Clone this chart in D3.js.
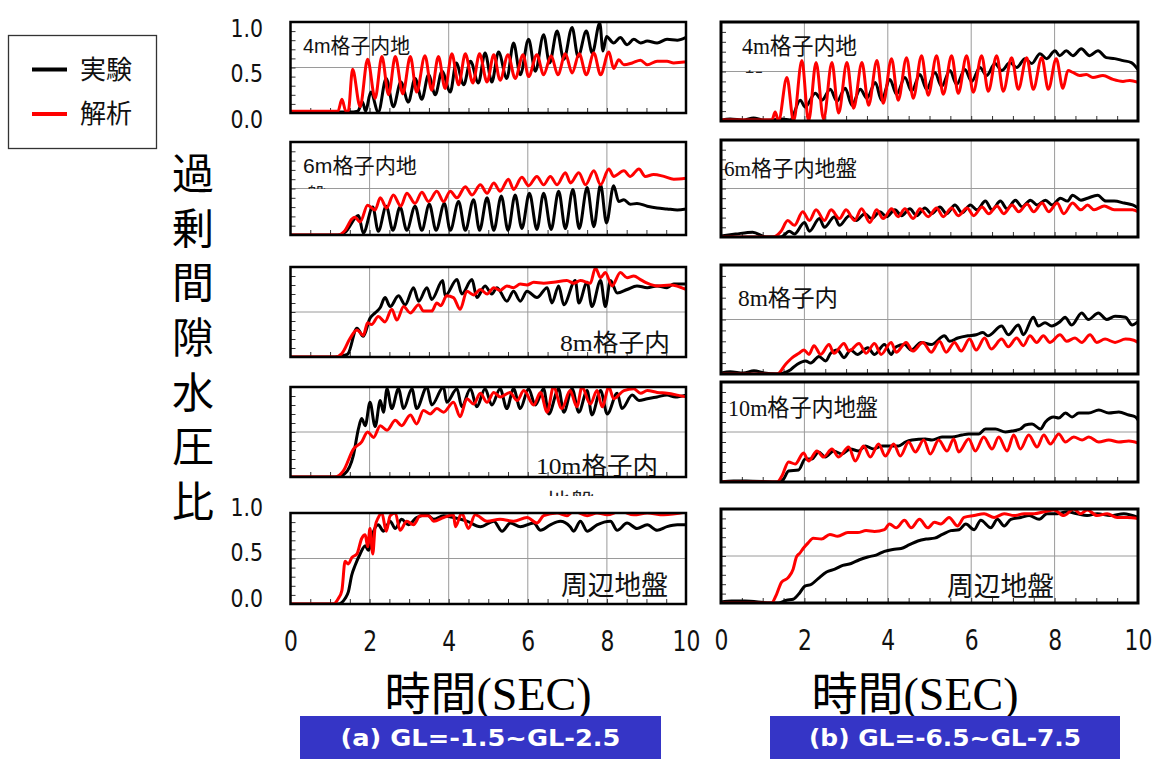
<!DOCTYPE html>
<html>
<head>
<meta charset="utf-8">
<script src="https://cdn.jsdelivr.net/npm/d3@7"></script>
<style>
  body { margin: 0; background: #fff; }
  svg { display: block; }
</style>
</head>
<body>
<svg id="chart" width="1157" height="759"></svg>
<script>
// ---------------- data ----------------
const timeTicks = [0, 2, 4, 6, 8, 10];
const ratioTicks = [0, 0.5, 1];
const yTitle = "過剰間隙水圧比";
const seriesNames = ["実験", "解析"];
const seriesColors = ["#000000", "#ff0000"];
const xTitleMain = "時間";
const xTitleUnit = "(SEC)";
const caseTitles = ["(a)  GL=-1.5~GL-2.5", "(b)  GL=-6.5~GL-7.5"];
const panelNames = ["4m格子内地", "6m格子内地", "8m格子内", "10m格子内", "周辺地盤",
                    "4m格子内地", "6m格子内地盤", "8m格子内", "10m格子内地盤", "周辺地盤"];

// (a) GL-1.5 ~ GL-2.5 : [time s, ratio]
const expA4 = [[0,0.01],[0.5,0.01],[1.0,0.01],[1.5,0.01],[1.70,0.02],[1.82,0.12],[1.90,0.02],[2.03,0.23],[2.22,0.01],[2.42,0.38],[2.60,0.07],[2.79,0.34],[2.98,0.12],[3.15,0.38],[3.32,0.15],[3.49,0.42],[3.66,0.20],[3.83,0.46],[4.04,0.23],[4.19,0.55],[4.38,0.31],[4.55,0.57],[4.75,0.33],[4.92,0.66],[5.09,0.34],[5.26,0.67],[5.47,0.38],[5.64,0.77],[5.81,0.42],[6.02,0.81],[6.19,0.46],[6.40,0.86],[6.55,0.55],[6.74,0.90],[6.91,0.59],[7.12,0.94],[7.27,0.62],[7.48,0.90],[7.63,0.66],[7.82,0.99],[7.90,0.68],[7.99,0.84],[8.17,0.77],[8.34,0.83],[8.51,0.75],[8.68,0.81],[8.85,0.77],[9.02,0.79],[9.27,0.77],[9.52,0.81],[9.78,0.80],[10,0.83]];
const anaA4 = [[0,0.02],[1.2,0.02],[1.30,0.15],[1.40,0.02],[1.46,0.02],[1.57,0.48],[1.76,0.07],[1.95,0.59],[2.14,0.16],[2.31,0.62],[2.48,0.20],[2.65,0.62],[2.84,0.21],[3.03,0.62],[3.19,0.23],[3.40,0.63],[3.57,0.25],[3.74,0.62],[3.91,0.27],[4.08,0.65],[4.25,0.31],[4.42,0.65],[4.61,0.33],[4.78,0.65],[4.97,0.34],[5.14,0.64],[5.30,0.36],[5.50,0.64],[5.68,0.38],[5.88,0.64],[6.02,0.40],[6.23,0.64],[6.40,0.42],[6.59,0.63],[6.76,0.42],[6.95,0.65],[7.12,0.44],[7.30,0.65],[7.48,0.42],[7.67,0.66],[7.84,0.42],[8.05,0.67],[8.17,0.49],[8.30,0.585],[8.43,0.53],[8.64,0.55],[8.85,0.58],[9.02,0.53],[9.27,0.57],[9.52,0.57],[9.69,0.55],[9.95,0.56],[10,0.56]];

const expA6 = [[0,0],[1.2,0],[1.38,0.03],[1.72,0.21],[1.84,0.02],[2.08,0.30],[2.22,0.04],[2.42,0.31],[2.59,0.05],[2.77,0.30],[2.94,0.05],[3.15,0.31],[3.32,0.05],[3.51,0.33],[3.68,0.05],[3.89,0.34],[4.04,0.05],[4.25,0.36],[4.42,0.05],[4.63,0.38],[4.78,0.05],[4.97,0.40],[5.14,0.05],[5.33,0.42],[5.50,0.05],[5.68,0.43],[5.85,0.07],[6.04,0.45],[6.23,0.06],[6.40,0.45],[6.59,0.06],[6.78,0.47],[6.95,0.07],[7.14,0.49],[7.30,0.07],[7.50,0.51],[7.67,0.09],[7.84,0.54],[7.99,0.13],[8.17,0.53],[8.30,0.36],[8.43,0.38],[8.59,0.33],[8.76,0.34],[9.02,0.31],[9.27,0.29],[9.52,0.28],[9.78,0.27],[10,0.28]];
const anaA6 = [[0,0],[1.21,0],[1.38,0.05],[1.55,0.17],[1.63,0.19],[1.76,0.14],[1.95,0.32],[2.14,0.27],[2.27,0.40],[2.43,0.29],[2.60,0.43],[2.79,0.31],[2.94,0.45],[3.15,0.34],[3.32,0.46],[3.49,0.36],[3.70,0.47],[3.87,0.36],[4.04,0.47],[4.21,0.40],[4.42,0.52],[4.59,0.43],[4.80,0.54],[4.97,0.45],[5.14,0.56],[5.30,0.47],[5.51,0.60],[5.64,0.49],[5.85,0.62],[6.02,0.53],[6.23,0.63],[6.40,0.54],[6.57,0.63],[6.74,0.54],[6.95,0.67],[7.08,0.56],[7.29,0.67],[7.46,0.54],[7.67,0.69],[7.84,0.54],[8.05,0.71],[8.17,0.63],[8.43,0.69],[8.59,0.63],[8.81,0.71],[8.97,0.63],[9.18,0.65],[9.44,0.63],[9.69,0.60],[10,0.61]];

const expA8 = [[0,0],[1.13,0],[1.38,0.02],[1.46,0.04],[1.68,0.32],[1.84,0.23],[2.01,0.43],[2.14,0.49],[2.27,0.55],[2.39,0.66],[2.52,0.56],[2.73,0.68],[2.90,0.58],[3.11,0.77],[3.24,0.62],[3.45,0.77],[3.57,0.64],[3.85,0.85],[3.91,0.68],[4.21,0.86],[4.33,0.70],[4.59,0.86],[4.71,0.66],[4.92,0.79],[5.09,0.70],[5.22,0.77],[5.47,0.62],[5.64,0.73],[5.81,0.62],[5.98,0.73],[6.23,0.66],[6.49,0.77],[6.61,0.60],[6.78,0.79],[6.91,0.58],[7.20,0.85],[7.29,0.60],[7.50,0.83],[7.62,0.56],[7.84,0.85],[7.96,0.56],[8.09,0.85],[8.26,0.71],[8.51,0.75],[8.76,0.79],[9.02,0.77],[9.27,0.79],[9.52,0.77],[9.69,0.81],[10,0.81]];
const anaA8 = [[0,0],[1.13,0],[1.30,0.04],[1.51,0.21],[1.68,0.30],[1.84,0.24],[1.95,0.38],[2.05,0.36],[2.22,0.45],[2.39,0.39],[2.56,0.53],[2.69,0.41],[2.86,0.56],[3.03,0.49],[3.24,0.58],[3.36,0.51],[3.57,0.51],[3.70,0.60],[3.80,0.57],[3.95,0.68],[4.12,0.66],[4.29,0.53],[4.46,0.73],[4.63,0.69],[4.80,0.75],[4.97,0.70],[5.14,0.77],[5.30,0.74],[5.47,0.79],[5.64,0.77],[5.81,0.81],[5.98,0.80],[6.15,0.83],[6.40,0.82],[6.65,0.83],[6.99,0.85],[7.16,0.82],[7.33,0.85],[7.58,0.82],[7.71,0.99],[7.84,0.88],[7.96,0.94],[8.13,0.79],[8.34,0.94],[8.51,0.88],[8.68,0.90],[8.85,0.86],[9.02,0.82],[9.27,0.79],[9.61,0.80],[10,0.75]];

const expA10 = [[0,0],[1.17,0],[1.38,0.04],[1.59,0.24],[1.72,0.54],[1.80,0.65],[1.89,0.57],[2.01,0.83],[2.14,0.56],[2.27,0.85],[2.35,0.72],[2.44,0.98],[2.56,0.76],[2.73,0.98],[2.86,0.76],[3.07,0.98],[3.19,0.76],[3.45,1.0],[3.57,0.80],[3.87,1.0],[3.95,0.83],[4.21,0.98],[4.33,0.78],[4.55,0.98],[4.71,0.78],[4.92,0.98],[5.09,0.80],[5.30,0.98],[5.47,0.76],[5.64,0.98],[5.81,0.76],[6.02,0.98],[6.19,0.80],[6.40,0.98],[6.53,0.70],[6.78,0.98],[6.91,0.72],[7.12,0.98],[7.29,0.72],[7.50,0.96],[7.62,0.69],[7.84,0.96],[8.01,0.70],[8.26,0.93],[8.38,0.76],[8.64,0.91],[8.81,0.85],[9.02,0.87],[9.27,0.89],[9.52,0.91],[9.73,0.89],[10,0.91]];
const anaA10 = [[0,0],[1.13,0],[1.34,0.07],[1.59,0.31],[1.80,0.39],[1.95,0.50],[2.10,0.44],[2.27,0.57],[2.44,0.52],[2.65,0.63],[2.81,0.57],[3.03,0.69],[3.19,0.59],[3.36,0.74],[3.53,0.70],[3.70,0.76],[3.87,0.72],[4.12,0.83],[4.29,0.67],[4.46,0.87],[4.63,0.81],[4.80,0.93],[4.97,0.83],[5.14,0.94],[5.30,0.89],[5.55,0.94],[5.73,0.85],[5.90,0.96],[6.15,0.80],[6.32,0.94],[6.49,0.72],[6.65,1.0],[6.86,0.76],[7.07,0.96],[7.24,0.78],[7.37,1.0],[7.58,0.81],[7.75,0.96],[7.88,0.78],[8.05,1.0],[8.17,0.87],[8.43,0.96],[8.68,0.98],[8.85,0.93],[9.02,0.96],[9.27,0.94],[9.52,0.93],[9.78,0.91],[10,0.89]];

const expA0 = [[0,0],[1.21,0],[1.38,0.06],[1.46,0.13],[1.55,0.32],[1.63,0.42],[1.76,0.55],[1.89,0.64],[1.97,0.59],[2.10,0.80],[2.22,0.87],[2.35,0.80],[2.52,0.91],[2.65,0.83],[2.81,0.93],[2.98,0.87],[3.19,0.95],[3.45,0.98],[3.62,0.93],[3.87,0.97],[4.12,0.95],[4.46,0.91],[4.80,0.85],[5.14,0.91],[5.35,0.80],[5.56,0.89],[5.81,0.85],[6.15,0.89],[6.32,0.81],[6.57,0.87],[6.82,0.91],[7.07,0.85],[7.16,0.80],[7.33,0.91],[7.50,0.80],[7.75,0.87],[8.09,0.91],[8.26,0.81],[8.51,0.89],[8.76,0.83],[9.02,0.87],[9.27,0.81],[9.52,0.85],[9.78,0.87],[10,0.87]];
const anaA0 = [[0,0],[1.08,0],[1.21,0.06],[1.30,0.15],[1.38,0.47],[1.46,0.44],[1.55,0.51],[1.68,0.55],[1.80,0.72],[1.89,0.76],[1.95,0.63],[2.01,0.83],[2.08,0.55],[2.14,0.85],[2.22,0.95],[2.31,1.0],[2.42,0.80],[2.52,0.97],[2.65,1.0],[2.77,0.81],[2.94,0.91],[3.11,0.87],[3.28,0.97],[3.49,0.97],[3.62,0.91],[3.87,0.95],[4.12,0.98],[4.17,0.85],[4.33,1.0],[4.50,0.83],[4.67,0.98],[4.97,0.91],[5.30,0.93],[5.64,0.91],[5.98,0.95],[6.23,0.89],[6.40,0.97],[6.74,1.0],[6.99,0.97],[7.16,1.02],[7.50,0.97],[7.75,1.0],[8.01,0.98],[8.34,1.02],[8.68,0.98],[9.02,1.0],[9.44,0.98],[10,1.01]];

// (b) GL-6.5 ~ GL-7.5 : [time s, ratio]
const expB4 = [[0,0.01],[0.22,0.02],[0.54,0.01],[0.78,0.03],[1.02,0.01],[1.22,0.01],[1.46,0.02],[1.66,0.01],[1.90,0.21],[2.02,0.14],[2.26,0.28],[2.42,0.21],[2.62,0.32],[2.78,0.20],[2.98,0.33],[3.14,0.16],[3.34,0.32],[3.50,0.23],[3.70,0.39],[3.85,0.21],[4.05,0.42],[4.21,0.27],[4.41,0.44],[4.57,0.30],[4.77,0.47],[4.93,0.32],[5.13,0.49],[5.29,0.35],[5.49,0.51],[5.65,0.37],[5.85,0.52],[6.01,0.40],[6.21,0.54],[6.37,0.46],[6.57,0.58],[6.73,0.51],[6.93,0.59],[7.09,0.54],[7.29,0.63],[7.45,0.58],[7.65,0.68],[7.81,0.63],[8.01,0.71],[8.12,0.66],[8.28,0.71],[8.44,0.66],[8.64,0.73],[8.84,0.66],[9.04,0.71],[9.24,0.64],[9.44,0.63],[9.64,0.61],[9.84,0.59],[10,0.52]];
const anaB4 = [[0,0.01],[1.22,0.01],[1.30,0.09],[1.38,0.0],[1.58,0.44],[1.74,0.0],[1.94,0.61],[2.10,0.0],[2.28,0.59],[2.46,0.02],[2.66,0.59],[2.82,0.08],[3.02,0.59],[3.18,0.13],[3.38,0.59],[3.54,0.16],[3.74,0.61],[3.89,0.18],[4.09,0.63],[4.25,0.21],[4.45,0.64],[4.61,0.23],[4.81,0.66],[4.97,0.26],[5.17,0.66],[5.33,0.27],[5.53,0.66],[5.69,0.28],[5.89,0.66],[6.05,0.29],[6.25,0.66],[6.41,0.30],[6.61,0.66],[6.77,0.30],[6.97,0.64],[7.13,0.32],[7.33,0.64],[7.49,0.32],[7.69,0.64],[7.85,0.32],[8.04,0.63],[8.20,0.33],[8.32,0.51],[8.44,0.49],[8.60,0.46],[8.76,0.47],[8.92,0.44],[9.16,0.46],[9.40,0.42],[9.64,0.40],[9.80,0.41],[10,0.39]];

const expB6 = [[0,0.01],[0.35,0.03],[0.76,0.05],[1.08,0.0],[1.44,0.0],[1.64,0.06],[1.76,0.03],[2.00,0.15],[2.12,0.06],[2.36,0.19],[2.48,0.10],[2.72,0.21],[2.84,0.12],[3.08,0.22],[3.24,0.17],[3.45,0.24],[3.61,0.19],[3.81,0.26],[3.97,0.21],[4.17,0.28],[4.33,0.22],[4.53,0.29],[4.69,0.22],[4.89,0.30],[5.05,0.24],[5.25,0.31],[5.41,0.24],[5.61,0.33],[5.78,0.25],[5.98,0.33],[6.14,0.28],[6.34,0.37],[6.50,0.28],[6.70,0.37],[6.86,0.29],[7.06,0.38],[7.22,0.31],[7.42,0.38],[7.58,0.33],[7.78,0.38],[7.94,0.33],[8.14,0.40],[8.31,0.37],[8.43,0.43],[8.63,0.38],[8.79,0.40],[9.03,0.43],[9.23,0.37],[9.43,0.37],[9.67,0.35],[9.87,0.33],[10,0.30]];
const anaB6 = [[0,0],[1.24,0],[1.44,0.06],[1.60,0.17],[1.76,0.12],[1.96,0.26],[2.12,0.17],[2.28,0.28],[2.48,0.17],[2.64,0.28],[2.84,0.19],[3.00,0.28],[3.20,0.17],[3.37,0.29],[3.57,0.15],[3.73,0.28],[3.89,0.19],[4.09,0.29],[4.25,0.21],[4.41,0.29],[4.61,0.19],[4.77,0.29],[4.97,0.21],[5.17,0.30],[5.33,0.21],[5.53,0.30],[5.69,0.22],[5.90,0.30],[6.06,0.22],[6.26,0.31],[6.42,0.24],[6.62,0.32],[6.78,0.24],[6.98,0.33],[7.14,0.26],[7.34,0.34],[7.50,0.26],[7.70,0.35],[7.86,0.26],[8.06,0.35],[8.22,0.24],[8.43,0.35],[8.63,0.28],[8.79,0.33],[8.95,0.28],[9.19,0.32],[9.43,0.28],[9.67,0.28],[9.87,0.28],[10,0.26]];

const expB8 = [[0,0.01],[0.22,0.02],[0.54,0.01],[0.79,0.03],[1.03,0.01],[1.35,0.0],[1.67,0.04],[1.83,0.09],[2.03,0.12],[2.15,0.10],[2.35,0.16],[2.51,0.12],[2.63,0.19],[2.79,0.22],[2.95,0.15],[3.11,0.22],[3.27,0.18],[3.52,0.24],[3.68,0.18],[3.92,0.27],[4.08,0.18],[4.20,0.25],[4.40,0.27],[4.56,0.22],[4.80,0.29],[5.04,0.27],[5.36,0.35],[5.48,0.30],[5.68,0.33],[5.92,0.35],[6.12,0.36],[6.28,0.38],[6.40,0.35],[6.73,0.44],[6.89,0.36],[7.13,0.45],[7.25,0.36],[7.49,0.52],[7.61,0.44],[7.77,0.47],[7.93,0.44],[8.13,0.48],[8.25,0.52],[8.41,0.45],[8.65,0.56],[8.81,0.50],[9.05,0.56],[9.25,0.50],[9.45,0.53],[9.70,0.52],[9.86,0.45],[10,0.48]];
const anaB8 = [[0,0],[1.35,0],[1.55,0.09],[1.71,0.15],[1.87,0.19],[1.99,0.22],[2.11,0.18],[2.23,0.26],[2.39,0.18],[2.59,0.27],[2.71,0.19],[2.95,0.28],[3.07,0.21],[3.31,0.28],[3.48,0.19],[3.68,0.28],[3.84,0.18],[4.08,0.29],[4.20,0.20],[4.44,0.29],[4.60,0.21],[4.84,0.29],[5.04,0.20],[5.24,0.30],[5.40,0.20],[5.60,0.29],[5.76,0.21],[5.96,0.32],[6.12,0.22],[6.32,0.33],[6.48,0.23],[6.73,0.32],[6.89,0.25],[7.09,0.33],[7.25,0.26],[7.41,0.35],[7.57,0.29],[7.73,0.35],[7.89,0.29],[8.13,0.36],[8.29,0.30],[8.49,0.33],[8.65,0.29],[8.85,0.36],[9.01,0.29],[9.21,0.32],[9.45,0.29],[9.70,0.32],[9.90,0.31],[10,0.29]];

const expB10 = [[0,0],[0.3,0.01],[0.6,0.01],[1.40,0],[1.50,0.03],[1.62,0.11],[1.86,0.12],[2.02,0.23],[2.18,0.23],[2.34,0.30],[2.50,0.25],[2.70,0.31],[2.90,0.28],[3.10,0.33],[3.30,0.31],[3.46,0.36],[3.66,0.33],[3.86,0.36],[4.02,0.36],[4.26,0.36],[4.42,0.40],[4.58,0.42],[4.90,0.43],[5.06,0.42],[5.30,0.45],[5.54,0.45],[5.78,0.47],[5.94,0.48],[6.18,0.48],[6.34,0.53],[6.58,0.53],[6.82,0.50],[6.98,0.51],[7.18,0.53],[7.30,0.57],[7.46,0.58],[7.66,0.53],[7.78,0.60],[7.98,0.65],[8.10,0.64],[8.26,0.69],[8.42,0.65],[8.58,0.69],[8.82,0.69],[9.06,0.72],[9.30,0.69],[9.54,0.70],[9.78,0.67],[9.94,0.65],[10,0.62]];
const anaB10 = [[0,0],[1.34,0],[1.46,0.06],[1.62,0.20],[1.78,0.18],[1.98,0.29],[2.10,0.21],[2.30,0.31],[2.46,0.25],[2.66,0.33],[2.82,0.25],[3.06,0.35],[3.22,0.21],[3.42,0.36],[3.58,0.25],[3.78,0.38],[3.94,0.26],[4.14,0.38],[4.30,0.26],[4.50,0.40],[4.66,0.30],[4.86,0.42],[5.02,0.28],[5.22,0.42],[5.42,0.31],[5.58,0.43],[5.70,0.30],[5.94,0.43],[6.10,0.31],[6.30,0.45],[6.50,0.33],[6.66,0.45],[6.86,0.31],[7.02,0.47],[7.18,0.33],[7.38,0.47],[7.58,0.35],[7.74,0.47],[7.90,0.38],[8.10,0.48],[8.26,0.40],[8.46,0.45],[8.66,0.42],[8.82,0.45],[9.06,0.40],[9.30,0.42],[9.54,0.40],[9.78,0.41],[10,0.39]];

const expB0 = [[0,0.01],[0.25,0.02],[0.57,0.02],[1.21,0],[1.37,0],[1.57,0.03],[1.73,0.04],[1.89,0.11],[2.01,0.18],[2.17,0.20],[2.33,0.26],[2.53,0.33],[2.73,0.36],[2.92,0.40],[3.12,0.42],[3.32,0.46],[3.52,0.49],[3.72,0.51],[3.92,0.55],[4.12,0.57],[4.32,0.58],[4.52,0.62],[4.72,0.66],[4.92,0.68],[5.12,0.69],[5.31,0.73],[5.51,0.77],[5.71,0.78],[5.87,0.84],[6.07,0.78],[6.23,0.88],[6.47,0.80],[6.63,0.89],[6.79,0.82],[6.95,0.89],[7.19,0.91],[7.39,0.93],[7.63,0.89],[7.82,0.95],[8.06,0.95],[8.30,0.97],[8.54,0.95],[8.78,0.93],[9.02,0.95],[9.34,0.93],[9.66,0.95],[10,0.91]];
const anaB0 = [[0,0],[1.21,0],[1.33,0.09],[1.45,0.22],[1.61,0.27],[1.73,0.36],[1.81,0.49],[1.89,0.53],[1.97,0.58],[2.09,0.64],[2.21,0.69],[2.41,0.68],[2.61,0.73],[2.80,0.71],[3.04,0.75],[3.28,0.75],[3.48,0.77],[3.68,0.76],[3.92,0.78],[4.04,0.84],[4.20,0.80],[4.40,0.88],[4.56,0.80],[4.76,0.89],[4.96,0.80],[5.12,0.86],[5.27,0.84],[5.47,0.91],[5.67,0.82],[5.83,0.91],[6.07,0.93],[6.31,0.95],[6.55,0.91],[6.79,0.95],[7.03,0.93],[7.27,0.95],[7.51,0.95],[7.75,0.97],[7.98,0.99],[8.22,0.93],[8.46,1.0],[8.62,0.95],[8.78,0.99],[9.02,0.93],[9.26,0.95],[9.50,0.91],[9.74,0.91],[10,0.90]];

const expSeries = [expA4, expA6, expA8, expA10, expA0, expB4, expB6, expB8, expB10, expB0];
const anaSeries = [anaA4, anaA6, anaA8, anaA10, anaA0, anaB4, anaB6, anaB8, anaB10, anaB0];

// ---------------- layout ----------------
const cols = [{ x0: 290.5, x1: 686, titleX: 488 }, { x0: 721, x1: 1138, titleX: 915 }];
const rows = [
  [[22, 113], [142, 235], [267, 357], [387, 477], [513, 604]],
  [[22, 121], [140, 237], [265, 374], [382, 482], [509, 603]]
];
// panel name placement: x, baseline, font size, width, Latin font
const nameLayout = [
  [303, 53, 21, 107, "sans"], [303, 173, 21, 114, "sans"], [560, 351, 24, 110, "serif"],
  [536, 474, 24, 122, "serif"], [561, 595, 27, 107, "sans"],
  [742, 54, 23, 115, "serif"], [724, 176, 22, 133, "serif"], [738, 306, 23, 100, "serif"],
  [728, 416, 24, 150, "serif"], [947, 596, 27, 107, "sans"]
];
const FONT_SANS = "'Liberation Sans', 'Noto Sans CJK JP', sans-serif";
const FONT_SERIF = "'Liberation Serif', 'Noto Sans CJK JP', serif";
const FONT_CJK = "'Noto Sans CJK JP', sans-serif";

const svg = d3.select("#chart");
const defs = svg.append("defs");

const line = d3.line().x(d => d[0]).y(d => d[1]).curve(d3.curveMonotoneX);

let idx = 0;
cols.forEach((col, ci) => {
  rows[ci].forEach((r, ri) => {
    const k = idx++;
    const [top, bottom] = r;
    const x = d3.scaleLinear().domain([0, 10]).range([col.x0, col.x1]);
    const y = d3.scaleLinear().domain([0, 1]).range([bottom, top]);
    const g = svg.append("g");

    const clipId = "clip" + k;
    defs.append("clipPath").attr("id", clipId)
      .append("rect").attr("x", col.x0).attr("y", top)
      .attr("width", col.x1 - col.x0).attr("height", bottom - top);

    // grid
    g.append("g").selectAll("line").data(timeTicks.filter(t => t > 0 && t < 10)).join("line")
      .attr("x1", d => x(d)).attr("x2", d => x(d)).attr("y1", top).attr("y2", bottom)
      .attr("stroke", "#9a9a9a").attr("stroke-width", 1);
    g.append("line").attr("x1", col.x0).attr("x2", col.x1)
      .attr("y1", y(0.5)).attr("y2", y(0.5))
      .attr("stroke", "#9a9a9a").attr("stroke-width", 1);

    // minor ticks
    const bx = g.append("g").attr("transform", `translate(0,${bottom})`)
      .call(d3.axisBottom(x).tickValues(d3.range(0.5, 10, 0.5)).tickSize(-5).tickFormat(""));
    bx.select(".domain").remove();
    bx.selectAll("line").attr("stroke", "#333").attr("stroke-width", 1);
    const ly = g.append("g").attr("transform", `translate(${col.x0},0)`)
      .call(d3.axisLeft(y).tickValues(d3.range(0.1, 1, 0.1)).tickSize(-5).tickFormat(""));
    ly.select(".domain").remove();
    ly.selectAll("line").attr("stroke", "#333").attr("stroke-width", 1);

    // panel name
    const nl = nameLayout[k];
    g.append("text").attr("x", nl[0]).attr("y", nl[1])
      .attr("font-size", nl[2]).attr("font-family", nl[4] === "serif" ? FONT_SERIF : FONT_SANS)
      .attr("textLength", nl[3]).attr("lengthAdjust", "spacingAndGlyphs")
      .attr("fill", "#111").text(panelNames[k]);

    // series
    const lines = g.append("g").attr("clip-path", `url(#${clipId})`);
    [expSeries[k], anaSeries[k]].forEach((s, si) => {
      lines.append("path")
        .attr("d", line(s.map(p => [x(p[0]), y(p[1])])))
        .attr("fill", "none").attr("stroke", seriesColors[si])
        .attr("stroke-width", 3).attr("stroke-linejoin", "round");
    });

    // frame
    g.append("rect").attr("x", col.x0).attr("y", top)
      .attr("width", col.x1 - col.x0).attr("height", bottom - top)
      .attr("fill", "none").attr("stroke", "#000").attr("stroke-width", ci === 0 ? 2.5 : 3);

    // y tick labels on the left column, first and last panel
    if (ci === 0 && (ri === 0 || ri === 4)) {
      const shift = ri === 0 ? 6 : -6;
      const ay = g.append("g").attr("transform", `translate(${col.x0 - 25},${shift})`)
        .call(d3.axisLeft(y).tickValues(ratioTicks).tickSize(0).tickFormat(d3.format(".1f")));
      ay.select(".domain").remove();
      ay.selectAll("text").attr("font-size", 25).attr("font-family", "'DejaVu Sans', sans-serif")
        .attr("fill", "#111").attr("transform", "scale(0.82,1)");
    }

    // time tick labels under the last row
    if (ri === 4) {
      const ax = g.append("g").attr("transform", `translate(0,${bottom + 24})`)
        .call(d3.axisBottom(x).tickValues(timeTicks).tickSize(0).tickFormat(d3.format("d")));
      ax.select(".domain").remove();
      ax.selectAll("text").attr("font-size", 28).attr("font-family", "'DejaVu Sans', sans-serif")
        .attr("fill", "#111").attr("transform", "scale(0.78,1)");

      // time axis title
      const tt = svg.append("text").attr("x", col.titleX).attr("y", 710).attr("text-anchor", "middle")
        .attr("font-size", 46).attr("fill", "#000");
      tt.append("tspan").attr("font-family", FONT_CJK).text(xTitleMain);
      tt.append("tspan").attr("font-family", "'Liberation Serif', serif").text(xTitleUnit);
    }
  });
});

// clipped second-line fragments of the panel names
const fragments = [
  { text: "盤", x: 743, y: 90, size: 23, clip: [740, 60, 30, 13], font: FONT_SERIF },
  { text: "盤", x: 306, y: 203, size: 20, clip: [300, 178, 26, 11], font: FONT_SANS },
  { text: "地盤", x: 546, y: 511, size: 24, clip: [540, 486, 60, 10], font: FONT_SERIF }
];
fragments.forEach((f, i) => {
  defs.append("clipPath").attr("id", "frag" + i).append("rect")
    .attr("x", f.clip[0]).attr("y", f.clip[1]).attr("width", f.clip[2]).attr("height", f.clip[3]);
  svg.append("text").attr("x", f.x).attr("y", f.y).attr("font-size", f.size)
    .attr("font-family", f.font).attr("fill", "#222").attr("clip-path", `url(#frag${i})`)
    .text(f.text);
});

// vertical axis title, set in vertical writing mode
svg.append("text")
  .attr("x", 193).attr("y", 152)
  .attr("writing-mode", "vertical-rl")
  .style("writing-mode", "vertical-rl")
  .style("text-orientation", "upright")
  .attr("font-size", 42).attr("letter-spacing", 12.7)
  .attr("font-family", FONT_CJK).attr("fill", "#000").text(yTitle);

// legend
const lg = svg.append("g");
lg.append("rect").attr("x", 8.5).attr("y", 35.5).attr("width", 148).attr("height", 113)
  .attr("fill", "#fff").attr("stroke", "#333").attr("stroke-width", 1.3);
seriesNames.forEach((n, i) => {
  const yy = 69.5 + i * 44.5;
  lg.append("line").attr("x1", 32).attr("x2", 67).attr("y1", yy).attr("y2", yy)
    .attr("stroke", seriesColors[i]).attr("stroke-width", 4);
  lg.append("text").attr("x", 80).attr("y", yy + 9).attr("font-size", 26)
    .attr("font-family", FONT_CJK).attr("fill", "#111").text(n);
});

// case captions
const boxes = [[300, 716, 361, 43], [770, 716, 350, 43]];
boxes.forEach((b, i) => {
  svg.append("rect").attr("x", b[0]).attr("y", b[1]).attr("width", b[2]).attr("height", b[3])
    .attr("fill", "#3535c6");
  svg.append("text").attr("x", b[0] + b[2] / 2).attr("y", b[1] + 30)
    .attr("text-anchor", "middle").attr("font-size", 23).attr("font-weight", "bold")
    .attr("font-family", "'DejaVu Sans', sans-serif").attr("fill", "#fff")
    .attr("textLength", i === 0 ? 280 : 272).attr("lengthAdjust", "spacingAndGlyphs")
    .text(caseTitles[i]);
});
</script>
</body>
</html>
